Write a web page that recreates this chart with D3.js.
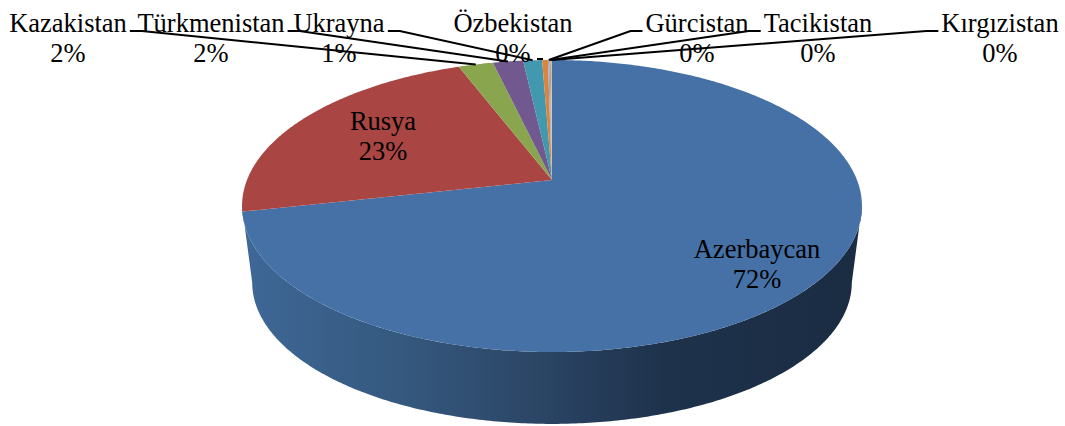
<!DOCTYPE html>
<html>
<head>
<meta charset="utf-8">
<script src="https://cdn.jsdelivr.net/npm/d3@7"></script>
<style>
  html, body { margin: 0; padding: 0; background: #fff; }
  svg { display: block; }
  text { font-family: "Liberation Serif", serif; font-size: 26.5px; fill: #000; }
</style>
</head>
<body>
<svg id="chart"></svg>
<script>
const categories = ["Azerbaycan", "Rusya", "Kazakistan", "Türkmenistan", "Ukrayna", "Özbekistan", "Gürcistan", "Tacikistan", "Kırgızistan"];
const shares = [71.55, 22.65, 2.15, 1.87, 1.17, 0.36, 0.1, 0.08, 0.07];
const sliceColors = ["#4571a6", "#a94643", "#89a54e", "#71588f", "#4198af", "#db843d", "#93a9cf", "#d19392", "#b9cd96"];

// label centre and leader side for each category
const labelX = [757, 383, 68, 211, 339, 513, 697, 818, 1000];
const labelY = [258, 130, 32, 32, 32, 32, 32, 32, 32];
const leaderSide = [null, null, "right", "right", "right", null, "left", "left", "left"];

const width = 1065;
const height = 426;

const svg = d3.select("#chart").attr("width", width).attr("height", height);

// perspective view of the pie disc
const tilt = 0.178;
const topFace = { cx: 552, cy: 180, a: 305, b: 141.4 };
const bottomFace = { cx: 552, cy: 257.5, a: 295, b: 136.8 };

function project(face, angle) {
  const u = Math.sin(angle);
  const v = Math.cos(angle);
  const w = 1 + tilt * v;
  return [face.cx + (face.a * u) / w, face.cy - (face.b * v) / w];
}

function arcPoints(face, start, end) {
  const n = Math.max(2, Math.ceil(Math.abs(end - start) / 0.01));
  return d3.range(n + 1).map((i) => project(face, start + ((end - start) * i) / n));
}

const line = d3.line();
const color = d3.scaleOrdinal().domain(categories).range(sliceColors);

const slices = d3
  .pie()
  .sort(null)
  .value((d, i) => shares[i])(categories);

// side wall gradient
const gradient = svg
  .append("defs")
  .append("linearGradient")
  .attr("id", "wall")
  .attr("gradientUnits", "userSpaceOnUse")
  .attr("x1", 242)
  .attr("x2", 862)
  .attr("y1", 0)
  .attr("y2", 0);

[
  [0, "#3f6897"],
  [0.25, "#35597f"],
  [0.48, "#2b4565"],
  [0.68, "#1e324c"],
  [1, "#1a2c42"],
].forEach(([offset, c]) => {
  gradient.append("stop").attr("offset", offset).attr("stop-color", c);
});

// wall is visible between the two widest points of the disc
const wallStart = Math.PI - Math.acos(tilt);
const wallEnd = Math.PI + Math.acos(tilt);

svg
  .append("path")
  .attr("fill", "url(#wall)")
  .attr("d", line([...arcPoints(topFace, wallStart, wallEnd), ...arcPoints(bottomFace, wallEnd, wallStart)]) + "Z");

// top face
svg
  .append("g")
  .selectAll("path")
  .data(slices)
  .join("path")
  .attr("fill", (d) => color(d.data))
  .attr("d", (d) => line([[topFace.cx, topFace.cy], ...arcPoints(topFace, d.startAngle, d.endAngle)]) + "Z");

// labels
const labels = svg
  .append("g")
  .selectAll("text")
  .data(slices)
  .join("text")
  .attr("text-anchor", "middle")
  .attr("y", (d, i) => labelY[i]);

labels
  .append("tspan")
  .attr("x", (d, i) => labelX[i])
  .text((d) => d.data);

labels
  .append("tspan")
  .attr("x", (d, i) => labelX[i])
  .attr("dy", 29.5)
  .text((d) => `${Math.round(d.value)}%`);

// leader lines
const leaders = svg.append("g").attr("fill", "none").attr("stroke", "#000").attr("stroke-width", 2);

labels.each(function (d, i) {
  const side = leaderSide[i];
  if (!side) return;
  const box = this.getBBox();
  const dir = side === "right" ? 1 : -1;
  const x0 = side === "right" ? box.x + box.width + 3 : box.x - 3;
  const y0 = labelY[i] - 1;
  const mid = (d.startAngle + d.endAngle) / 2;
  leaders.append("path").attr("d", line([[x0, y0], [x0 + dir * 12, y0], project(topFace, mid)]));
});

// Özbekistan leader, almost hidden by its own label
const ozbek = slices[5];
const [ozX, ozY] = project(topFace, (ozbek.startAngle + ozbek.endAngle) / 2);
leaders.append("path").attr("d", line([[ozX - 8, ozY - 1], [ozX - 2, ozY - 1]]));
</script>
</body>
</html>
